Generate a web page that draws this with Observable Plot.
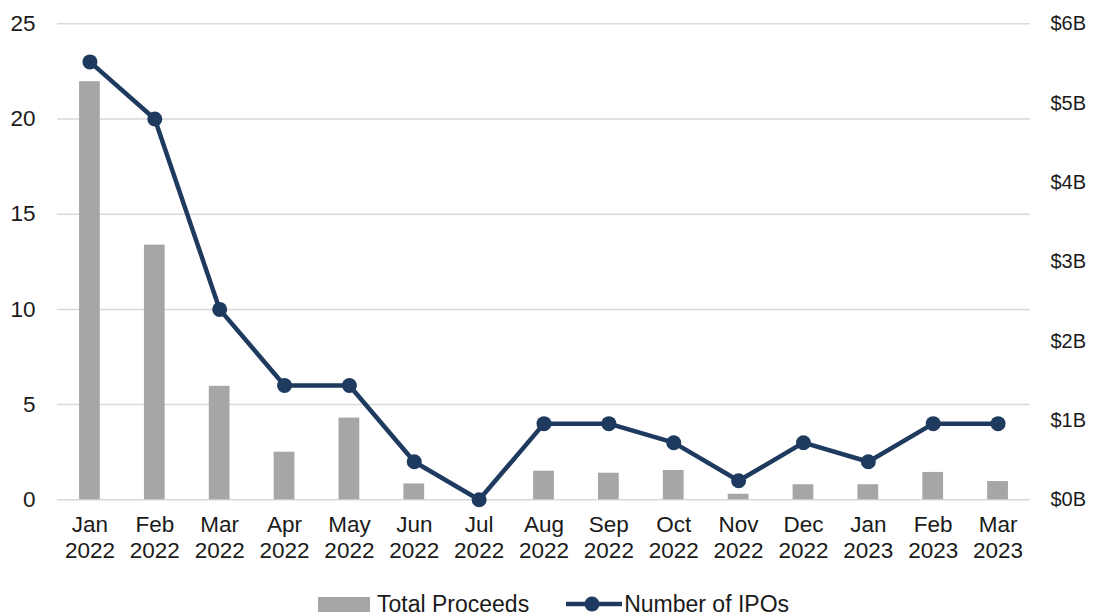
<!DOCTYPE html>
<html>
<head>
<meta charset="utf-8">
<script src="https://cdn.jsdelivr.net/npm/d3@7"></script>
<script src="https://cdn.jsdelivr.net/npm/@observablehq/plot@0.6"></script>
<style>
  html, body { margin: 0; padding: 0; background: #fff; }
  body { width: 1095px; height: 616px; overflow: hidden; font-family: "Liberation Sans", Arial, sans-serif; }
  #chart { position: relative; }
  .legend { position: absolute; left: 318px; top: 592px; display: flex; align-items: center; font-size: 23px; color: #1a1a1a; line-height: 24px; }
  .legend .item { display: flex; align-items: center; }
  .legend .item + .item { margin-left: 37px; }
  .legend svg { display: block; }
</style>
</head>
<body>
<div id="chart"></div>
<script>
// Monthly IPO activity, Jan 2022 – Mar 2023
const months = ["Jan\n2022", "Feb\n2022", "Mar\n2022", "Apr\n2022", "May\n2022", "Jun\n2022", "Jul\n2022",
                "Aug\n2022", "Sep\n2022", "Oct\n2022", "Nov\n2022", "Dec\n2022", "Jan\n2023", "Feb\n2023", "Mar\n2023"];
const ipoCounts = [23, 20, 10, 6, 6, 2, 0, 4, 4, 3, 1, 3, 2, 4, 4];
// Total proceeds in billions of dollars
const proceedsB = [5.27, 3.21, 1.43, 0.60, 1.03, 0.20, 0, 0.36, 0.335, 0.37, 0.07, 0.19, 0.19, 0.345, 0.23];

const countTicks = [0, 5, 10, 15, 20, 25];
const proceedsTicks = [0, 1, 2, 3, 4, 5, 6];
const proceedsTickLabels = ["$0B", "$1B", "$2B", "$3B", "$4B", "$5B", "$6B"];

const countMax = 25;
const proceedsMax = 6;
const toCount = (b) => b * countMax / proceedsMax; // proceeds drawn on the count scale

const rows = months.map((m, i) => ({month: m, ipos: ipoCounts[i], proceeds: proceedsB[i]}));

const navy = "#1f3a5f";
const gray = "#a6a6a6";
const ink = "#1a1a1a";

const chart = Plot.plot({
  width: 1095,
  height: 590,
  marginLeft: 57,
  marginRight: 65,
  marginTop: 23.3,
  marginBottom: 90.7,
  style: {fontFamily: "'Liberation Sans', Arial, sans-serif", fontSize: "22.5px", color: ink, background: "#fff"},
  x: {domain: months, paddingInner: 0.68, paddingOuter: 0.34, round: false, label: null},
  y: {domain: [0, countMax], label: null},
  marks: [
    Plot.ruleY(countTicks, {stroke: "#d9d9d9", strokeWidth: 1.5}),
    Plot.barY(rows, {x: "month", y: (d) => toCount(d.proceeds), fill: gray}),
    Plot.line(rows, {x: "month", y: "ipos", stroke: navy, strokeWidth: 4.5}),
    Plot.dot(rows, {x: "month", y: "ipos", r: 7.5, fill: navy, stroke: "none"}),
    Plot.axisY(countTicks, {anchor: "left", tickSize: 0, tickPadding: 22, fill: ink, label: null}),
    Plot.axisY(proceedsTicks.map(toCount), {
      anchor: "right", tickSize: 0, tickPadding: 20, fill: ink, label: null, fontSize: 20,
      tickFormat: (v) => proceedsTickLabels[proceedsTicks.indexOf(Math.round(v * proceedsMax / countMax))]
    }),
    Plot.axisX({anchor: "bottom", tickSize: 0, tickPadding: 14, lineHeight: 1.16, fill: ink, label: null})
  ]
});
document.getElementById("chart").appendChild(chart);

// Legend below the chart
const legend = document.createElement("div");
legend.className = "legend";
legend.innerHTML = `
  <div class="item">
    <svg width="52" height="15"><rect x="0" y="0" width="52" height="15" fill="${gray}"></rect></svg>
    <span style="margin-left:7px">Total Proceeds</span>
  </div>
  <div class="item">
    <svg width="56" height="16"><line x1="0" y1="8" x2="56" y2="8" stroke="${navy}" stroke-width="4.5"></line><circle cx="26" cy="8" r="7.5" fill="${navy}"></circle></svg>
    <span style="margin-left:2px">Number of IPOs</span>
  </div>`;
document.getElementById("chart").appendChild(legend);
</script>
</body>
</html>
